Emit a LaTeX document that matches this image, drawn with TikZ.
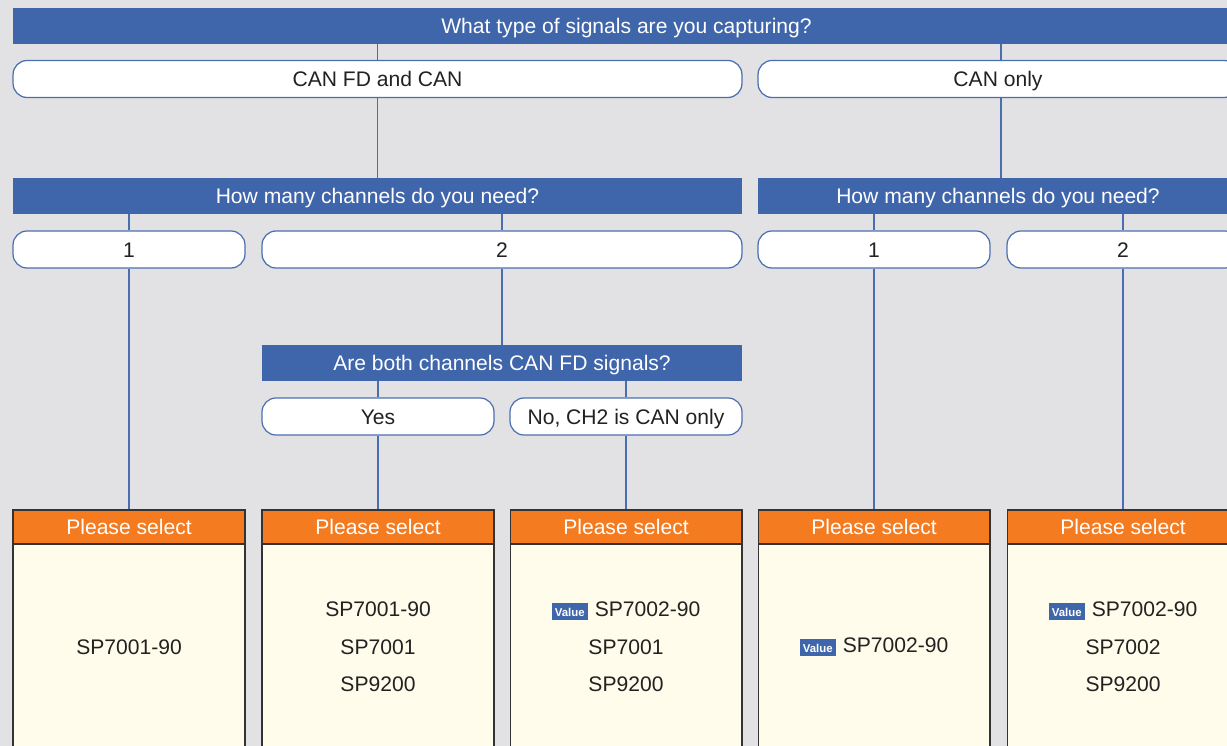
\documentclass[tikz,border=0pt]{standalone}
\usepackage{fontspec}
\setmainfont{Liberation Sans}
\definecolor{bgray}{HTML}{E2E2E4}
\definecolor{qblue}{HTML}{3F65AA}
\definecolor{lblue}{HTML}{4A6FB0}
\definecolor{orng}{HTML}{F47B20}
\definecolor{cream}{HTML}{FFFCEB}
\definecolor{edge}{HTML}{333333}
\definecolor{ink}{HTML}{222222}
\newcommand{\valuetag}{{\fboxsep=1.8pt\colorbox{qblue}{\rule{0pt}{6pt}\textcolor{white}{\fontsize{6.5}{7}\selectfont\bfseries Value}}}\hspace{4pt}}

\begin{document}
\begin{tikzpicture}[x=0.02cm, y=-0.02cm,
    every node/.style={font=\fontsize{12}{14}\selectfont},
    question/.style={fill=qblue, text=white, inner sep=0pt, minimum height=0.72cm, text height=11.2pt, text depth=2.6pt},
    answer/.style={draw=lblue, fill=white, text=ink, line width=0.7pt, rounded corners=0.28cm, inner sep=0pt, minimum height=0.74cm, text height=11.2pt, text depth=2.6pt},
    selhead/.style={draw=edge, fill=orng, text=white, line width=0.6pt, inner sep=0pt, minimum width=4.64cm, minimum height=0.68cm, text height=11.2pt, text depth=2.6pt},
    selbody/.style={draw=edge, fill=cream, text=ink, line width=0.6pt, align=center, inner sep=0pt, minimum width=4.64cm, minimum height=4.12cm, font=\fontsize{12}{21.4}\selectfont},
    link/.style={draw=lblue, line width=0.6pt}]
       \useasboundingbox (0,0) rectangle (1227,746);
       \fill[bgray] (0,0) rectangle (1227,746);
       \clip (0,0) rectangle (1227,746);

       \node[question, minimum width=24.54cm] (q0) at (626.5,26) {What type of signals are you capturing?};
       \node[answer, minimum width=14.58cm] (a1) at (377.5,79) {CAN FD and CAN};
       \node[answer, minimum width=9.6cm]   (a2) at (998,79)   {CAN only};

       \node[question, minimum width=14.58cm] (q1) at (377.5,196) {How many channels do you need?};
       \node[question, minimum width=9.6cm]   (q2) at (998,196)   {How many channels do you need?};

       \node[answer, minimum width=4.64cm] (n1) at (129,249.5)  {1};
       \node[answer, minimum width=9.6cm]  (n2) at (502,249.5)  {2};
       \node[answer, minimum width=4.64cm] (n3) at (874,249.5)  {1};
       \node[answer, minimum width=4.64cm] (n4) at (1123,249.5) {2};

       \node[question, minimum width=9.6cm] (q3) at (502,363) {Are both channels CAN FD signals?};
       \node[answer, minimum width=4.64cm] (y1) at (378,416.5) {Yes};
       \node[answer, minimum width=4.64cm] (y2) at (626,416.5) {No, CH2 is CAN only};

       \node[selbody] (p1) at (129,647)  {SP7001-90};
       \node[selbody] (p2) at (378,647)  {SP7001-90\\SP7001\\SP9200};
       \node[selbody] (p3) at (626,647)  {\valuetag SP7002-90\\SP7001\\SP9200};
       \node[selbody] (p4) at (874,647)  {\valuetag SP7002-90};
       \node[selbody] (p5) at (1123,647) {\valuetag SP7002-90\\SP7002\\SP9200};
       \node[selhead] (h1) at (129,527)  {Please select};
       \node[selhead] (h2) at (378,527)  {Please select};
       \node[selhead] (h3) at (626,527)  {Please select};
       \node[selhead] (h4) at (874,527)  {Please select};
       \node[selhead] (h5) at (1123,527) {Please select};

       \path[link] (q0.south -| a1) -- (a1) -- (a1 |- q1.north);
       \path[link] (q0.south -| 1001,0) -- (a2.north -| 1001,0) (a2.south -| 1001,0) -- (q2.north -| 1001,0);

       \path[link] (q1.south -| n1) -- (n1) -- (n1 |- h1.north);
       \path[link] (q1.south -| n2) -- (n2) -- (n2 |- q3.north);
       \path[link] (q2.south -| n3) -- (n3) -- (n3 |- h4.north);
       \path[link] (q2.south -| n4) -- (n4) -- (n4 |- h5.north);

       \path[link] (q3.south -| y1) -- (y1) -- (y1 |- h2.north);
       \path[link] (q3.south -| y2) -- (y2) -- (y2 |- h3.north);
      \end{tikzpicture}
\end{document}
